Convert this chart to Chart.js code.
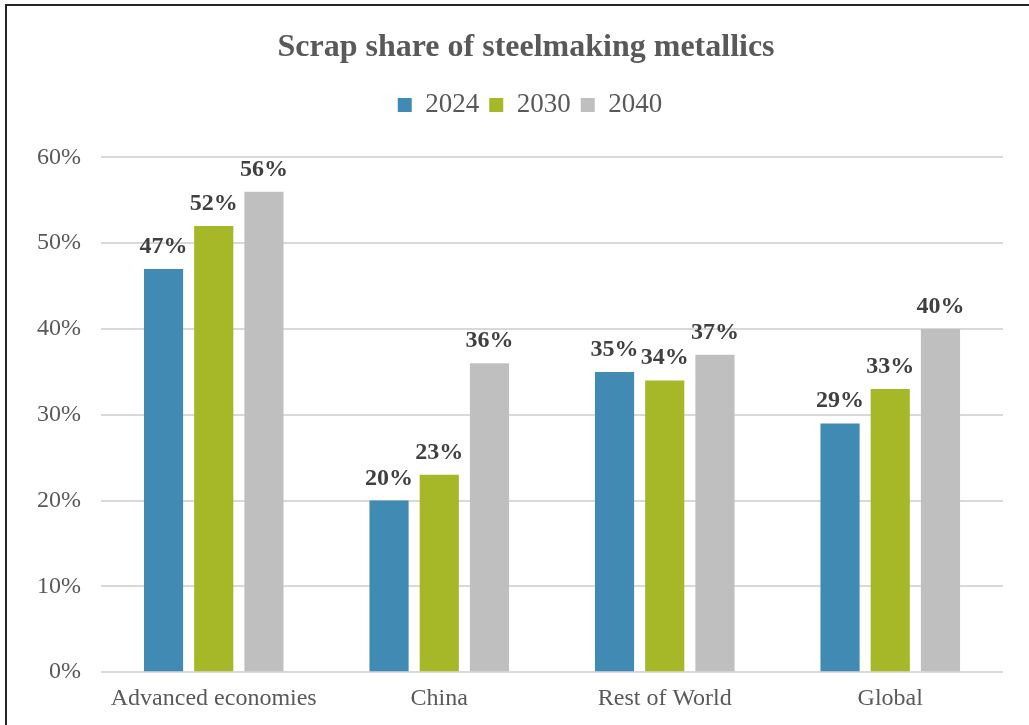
<!DOCTYPE html>
<html>
<head>
<meta charset="utf-8">
<script src="https://cdn.jsdelivr.net/npm/chart.js@4"></script>
<style>
  html, body { margin: 0; padding: 0; background: #fff; overflow: hidden; }
  .chart-container { position: relative; width: 1029px; height: 725px; }
  .frame {
    position: absolute; left: 5px; top: 4px; width: 1100px; height: 800px;
    border: 2px solid #262626; pointer-events: none;
  }
</style>
</head>
<body>
<div class="chart-container">
  <canvas id="scrapChart"></canvas>
  <div class="frame"></div>
</div>
<script>
const regions = ["Advanced economies", "China", "Rest of World", "Global"];
const years = ["2024", "2030", "2040"];
const share2024 = [47, 20, 35, 29];
const share2030 = [52, 23, 34, 33];
const share2040 = [56, 36, 37, 40];
const yTicks = [0, 10, 20, 30, 40, 50, 60];
const seriesColors = ["#418AB3", "#A6B727", "#BFBFBF"];

const serif = "'Liberation Serif', 'Times New Roman', serif";

// value labels above each bar
const barLabels = {
  id: "barLabels",
  afterDatasetsDraw(chart) {
    const ctx = chart.ctx;
    ctx.save();
    ctx.font = "bold 24px " + serif;
    ctx.fillStyle = "#404040";
    ctx.textAlign = "center";
    ctx.textBaseline = "alphabetic";
    chart.data.datasets.forEach((ds, i) => {
      chart.getDatasetMeta(i).data.forEach((bar, j) => {
        ctx.fillText(ds.data[j] + "%", bar.x, bar.y - 16);
      });
    });
    ctx.restore();
  }
};

// shift a layout box sideways when it is drawn
function nudge(box, dx) {
  const draw = box.draw;
  box.draw = function (...args) {
    this.ctx.save();
    this.ctx.translate(dx, 0);
    draw.apply(this, args);
    this.ctx.restore();
  };
}

// header placement: legend sits further from the plot, title/legend a bit right
const headerTweaks = {
  id: "headerTweaks",
  beforeInit(chart) {
    const fit = chart.legend.fit;
    chart.legend.fit = function () {
      fit.call(this);
      this.height += 29;
    };
    nudge(chart.legend, 20);
    nudge(chart.titleBlock, 16);
  }
};

const ctx = document.getElementById("scrapChart").getContext("2d");
new Chart(ctx, {
  type: "bar",
  data: {
    labels: regions,
    datasets: [share2024, share2030, share2040].map((vals, i) => ({
      label: years[i],
      data: vals,
      backgroundColor: seriesColors[i],
      borderWidth: 0,
      categoryPercentage: 0.668,
      barPercentage: 0.78
    }))
  },
  options: {
    responsive: true,
    maintainAspectRatio: false,
    animation: false,
    layout: { padding: { left: 17, right: 26, top: 29, bottom: 0 } },
    plugins: {
      title: {
        display: true,
        text: "Scrap share of steelmaking metallics",
        color: "#595959",
        font: { family: serif, size: 32, weight: "bold" },
        padding: { top: 0, bottom: 14 }
      },
      legend: {
        position: "top",
        labels: {
          color: "#595959",
          font: { family: serif, size: 27 },
          boxWidth: 14,
          boxHeight: 14,
          padding: 10
        }
      },
      tooltip: { enabled: false }
    },
    scales: {
      x: {
        grid: { display: false, drawTicks: false },
        border: { display: false },
        ticks: {
          color: "#595959",
          font: { family: serif, size: 24 },
          padding: 12,
          maxRotation: 0
        },
        afterFit(scale) {
          scale.paddingLeft = 0;
          scale.paddingRight = 0;
        }
      },
      y: {
        min: 0,
        max: 60,
        afterBuildTicks(axis) {
          axis.ticks = yTicks.map(v => ({ value: v }));
        },
        grid: { color: "#D9D9D9", lineWidth: 2, drawTicks: false },
        border: { display: false },
        ticks: {
          color: "#595959",
          font: { family: serif, size: 24 },
          padding: 20,
          callback: v => v + "%"
        }
      }
    }
  },
  plugins: [barLabels, headerTweaks]
});
</script>
</body>
</html>
